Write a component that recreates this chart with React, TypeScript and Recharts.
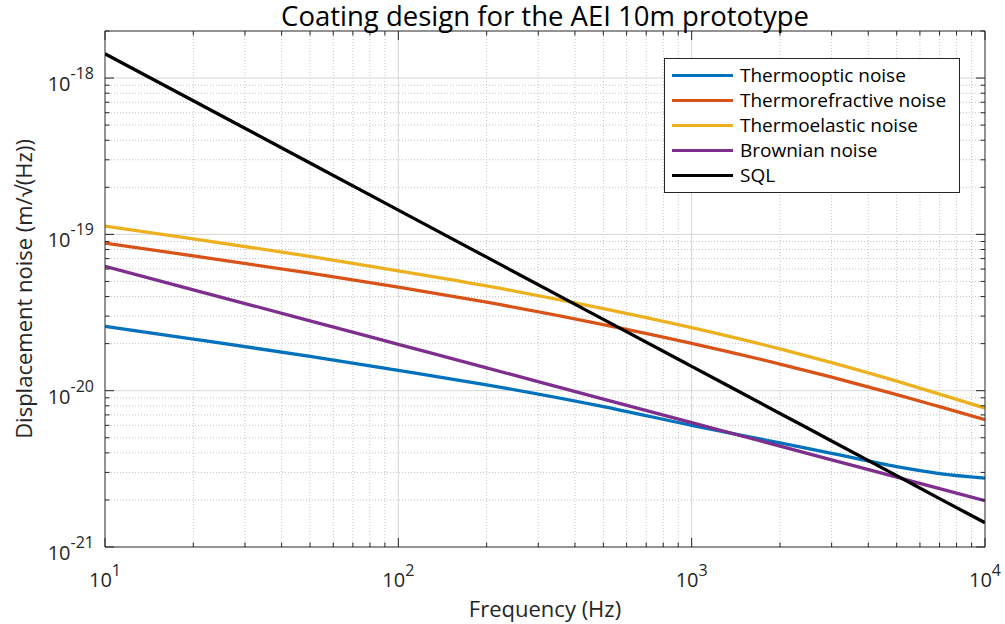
import React from 'react';
import { LineChart, Line, XAxis, YAxis, ReferenceLine, Legend } from 'recharts';

const FONT = '"Open Sans", "Noto Sans", "DejaVu Sans", sans-serif';
const TEXT = '#262626';
const AXIS = '#262626';

// Frequency samples (Hz)
const frequencyHz = [10, 20, 50, 100, 200, 500, 1000, 2000, 3000, 5000, 7000, 10000];
// Displacement noise values (m/sqrt(Hz))
const thermoopticNoise = [2.58e-20, 2.14e-20, 1.66e-20, 1.35e-20, 1.09e-20, 7.91e-21, 6.0e-21, 4.63e-21, 3.97e-21, 3.27e-21, 2.95e-21, 2.76e-21];
const thermorefractiveNoise = [8.79e-20, 7.29e-20, 5.65e-20, 4.59e-20, 3.68e-20, 2.65e-20, 2.01e-20, 1.48e-20, 1.22e-20, 9.44e-21, 7.9e-21, 6.53e-21];
const thermoelasticNoise = [1.13e-19, 9.37e-20, 7.23e-20, 5.85e-20, 4.68e-20, 3.35e-20, 2.53e-20, 1.85e-20, 1.51e-20, 1.15e-20, 9.5e-21, 7.74e-21];
const brownianNoise = [6.25e-20, 4.42e-20, 2.8e-20, 1.98e-20, 1.4e-20, 8.84e-21, 6.25e-21, 4.42e-21, 3.61e-21, 2.8e-21, 2.36e-21, 1.98e-21];
const sqlNoise = [1.43e-18, 7.15e-19, 2.86e-19, 1.43e-19, 7.15e-20, 2.86e-20, 1.43e-20, 7.15e-21, 4.77e-21, 2.86e-21, 2.04e-21, 1.43e-21];

const seriesNames = ['Thermooptic noise', 'Thermorefractive noise', 'Thermoelastic noise', 'Brownian noise', 'SQL'];
const seriesColors = ['#0072BD', '#D95319', '#EDB120', '#7E2F8E', '#000000'];
const seriesKeys = ['thermooptic', 'thermorefractive', 'thermoelastic', 'brownian', 'sql'];

// Axis ticks
const xMajorTicks = [10, 100, 1000, 10000];
const xMinorTicks = [20, 30, 40, 50, 60, 70, 80, 90, 200, 300, 400, 500, 600, 700, 800, 900, 2000, 3000, 4000, 5000, 6000, 7000, 8000, 9000];
const yMajorTicks = [1e-21, 1e-20, 1e-19, 1e-18];
const yMinorTicks = [2e-21, 3e-21, 4e-21, 5e-21, 6e-21, 7e-21, 8e-21, 9e-21, 2e-20, 3e-20, 4e-20, 5e-20, 6e-20, 7e-20, 8e-20, 9e-20, 2e-19, 3e-19, 4e-19, 5e-19, 6e-19, 7e-19, 8e-19, 9e-19, 2e-18];
const xDomain = [10, 10000];
const yDomain = [1e-21, 2e-18];

const data = frequencyHz.map((f, i) => ({
  f,
  thermooptic: thermoopticNoise[i],
  thermorefractive: thermorefractiveNoise[i],
  thermoelastic: thermoelasticNoise[i],
  brownian: brownianNoise[i],
  sql: sqlNoise[i],
}));

const xTicks = [...xMajorTicks, ...xMinorTicks].sort((a, b) => a - b);
const yTicks = [...yMajorTicks, ...yMinorTicks].sort((a, b) => a - b);

const isMajor = (v: number) => Math.abs(Math.log10(v) - Math.round(Math.log10(v))) < 1e-6;
const exponentOf = (v: number) => Math.round(Math.log10(v));
const MAJOR_LEN = 9;
const MINOR_LEN = 4.5;

const BottomTick = (props: any) => {
  const { x, y, payload } = props;
  const v = payload.value;
  const major = isMajor(v);
  return (
    <g>
      <line x1={x} x2={x} y1={y} y2={y - (major ? MAJOR_LEN : MINOR_LEN)} stroke={AXIS} strokeWidth={1} />
      {major && (
        <text x={x} y={y + 40} textAnchor="middle" fill={TEXT} fontFamily={FONT}>
          <tspan fontSize={20}>10</tspan>
          <tspan fontSize={16} dy={-11}>{exponentOf(v)}</tspan>
        </text>
      )}
    </g>
  );
};

const TopTick = (props: any) => {
  const { x, y, payload } = props;
  const major = isMajor(payload.value);
  return <line x1={x} x2={x} y1={y} y2={y + (major ? MAJOR_LEN : MINOR_LEN)} stroke={AXIS} strokeWidth={1} />;
};

const LeftTick = (props: any) => {
  const { x, y, payload } = props;
  const v = payload.value;
  const major = isMajor(v);
  return (
    <g>
      <line x1={x} x2={x + (major ? MAJOR_LEN : MINOR_LEN)} y1={y} y2={y} stroke={AXIS} strokeWidth={1} />
      {major && (
        <text x={x - 11} y={y + 13} textAnchor="end" fill={TEXT} fontFamily={FONT}>
          <tspan fontSize={20}>10</tspan>
          <tspan fontSize={16} dy={-12}>{exponentOf(v)}</tspan>
        </text>
      )}
    </g>
  );
};

const RightTick = (props: any) => {
  const { x, y, payload } = props;
  const major = isMajor(payload.value);
  return <line x1={x} x2={x - (major ? MAJOR_LEN : MINOR_LEN)} y1={y} y2={y} stroke={AXIS} strokeWidth={1} />;
};

const LegendBox = (props: any) => {
  const payload = [...(props.payload || [])].sort(
    (a: any, b: any) => seriesNames.indexOf(a.value) - seriesNames.indexOf(b.value)
  );
  return (
    <div
      style={{
        border: `1px solid ${AXIS}`,
        background: '#fff',
        padding: '4px 0',
        width: 294,
        boxSizing: 'content-box',
      }}
    >
      {payload.map((p: any) => (
        <div key={p.value} style={{ display: 'flex', alignItems: 'center', height: 25 }}>
          <div style={{ marginLeft: 7, width: 61, height: 3, background: p.color }} />
          <span
            style={{
              marginLeft: 7,
              fontSize: 19,
              fontFamily: FONT,
              color: '#000',
              lineHeight: '25px',
              whiteSpace: 'nowrap',
            }}
          >
            {p.value}
          </span>
        </div>
      ))}
    </div>
  );
};

export default function App() {
  return (
    <div style={{ position: 'absolute', left: 0, top: 0, width: 1005, height: 624, background: '#fff' }}>
      <LineChart width={1005} height={624} data={data} margin={{ top: 30, right: 19, bottom: 76, left: 104 }}>
        <XAxis
          xAxisId="x"
          dataKey="f"
          type="number"
          scale="log"
          domain={xDomain}
          ticks={xTicks}
          interval={0}
          height={1}
          tickSize={0}
          tickMargin={0}
          tickLine={false}
          tick={<BottomTick />}
          axisLine={{ stroke: AXIS, strokeWidth: 1 }}
          allowDataOverflow
        />
        <XAxis
          xAxisId="xt"
          orientation="top"
          dataKey="f"
          type="number"
          scale="log"
          domain={xDomain}
          ticks={xTicks}
          interval={0}
          height={1}
          tickSize={0}
          tickMargin={0}
          tickLine={false}
          tick={<TopTick />}
          axisLine={{ stroke: AXIS, strokeWidth: 1 }}
          allowDataOverflow
        />
        <YAxis
          yAxisId="y"
          type="number"
          scale="log"
          domain={yDomain}
          ticks={yTicks}
          interval={0}
          width={1}
          tickSize={0}
          tickMargin={0}
          tickLine={false}
          tick={<LeftTick />}
          axisLine={{ stroke: AXIS, strokeWidth: 1 }}
          allowDataOverflow
        />
        <YAxis
          yAxisId="yr"
          orientation="right"
          type="number"
          scale="log"
          domain={yDomain}
          ticks={yTicks}
          interval={0}
          width={1}
          tickSize={0}
          tickMargin={0}
          tickLine={false}
          tick={<RightTick />}
          axisLine={{ stroke: AXIS, strokeWidth: 1 }}
          allowDataOverflow
        />
        {xMinorTicks.map((v) => (
          <ReferenceLine key={`xm${v}`} xAxisId="x" yAxisId="y" x={v} stroke="#c4c4c4" strokeDasharray="1 2" strokeWidth={1} />
        ))}
        {yMinorTicks.filter((v) => v < yDomain[1]).map((v) => (
          <ReferenceLine key={`ym${v}`} xAxisId="x" yAxisId="y" y={v} stroke="#c4c4c4" strokeDasharray="1 2" strokeWidth={1} />
        ))}
        {xMajorTicks.filter((v) => v > xDomain[0] && v < xDomain[1]).map((v) => (
          <ReferenceLine key={`xM${v}`} xAxisId="x" yAxisId="y" x={v} stroke="#d6d6d6" strokeWidth={1} />
        ))}
        {yMajorTicks.filter((v) => v > yDomain[0] && v < yDomain[1]).map((v) => (
          <ReferenceLine key={`yM${v}`} xAxisId="x" yAxisId="y" y={v} stroke="#d6d6d6" strokeWidth={1} />
        ))}
        {seriesKeys.map((k, i) => (
          <Line
            key={k}
            xAxisId="x"
            yAxisId="y"
            type="monotone"
            dataKey={k}
            name={seriesNames[i]}
            stroke={seriesColors[i]}
            strokeWidth={3.3}
            dot={false}
            isAnimationActive={false}
          />
        ))}
        <Legend
          layout="vertical"
          align="center"
          verticalAlign="middle"
          wrapperStyle={{ left: 664, top: 58, width: 296 }}
          content={<LegendBox />}
        />
      </LineChart>
      <svg
        width={1005}
        height={624}
        style={{ position: 'absolute', left: 0, top: 0, pointerEvents: 'none' }}
      >
        <text x={545} y={26} textAnchor="middle" fontSize={27.5} fontFamily={FONT} fill="#000">
          Coating design for the AEI 10m prototype
        </text>
        <text x={545} y={617} textAnchor="middle" fontSize={22} fontFamily={FONT} fill={TEXT}>
          Frequency (Hz)
        </text>
        <text transform="translate(32,289) rotate(-90)" textAnchor="middle" fontSize={22} fontFamily={FONT} fill={TEXT}>
          Displacement noise (m/√(Hz))
        </text>
      </svg>
    </div>
  );
}
